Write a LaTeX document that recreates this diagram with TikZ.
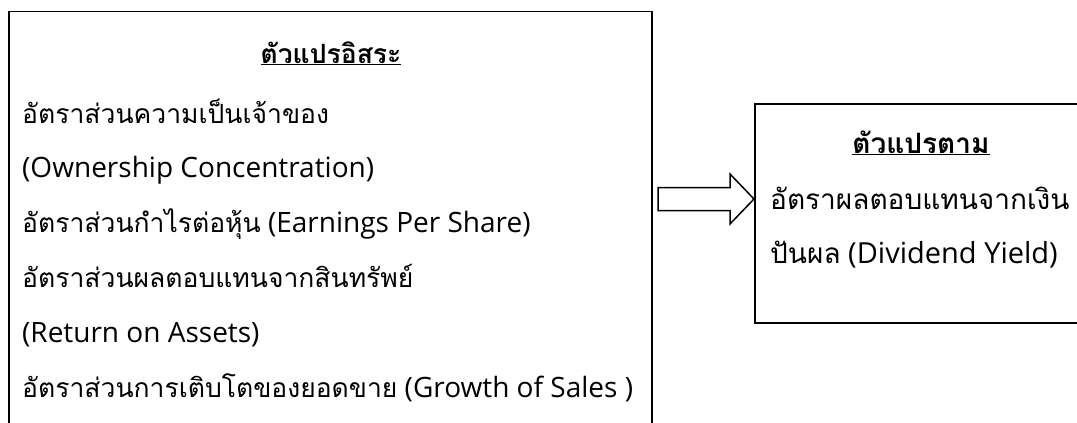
\documentclass[tikz,border=0pt]{standalone}
\usepackage{fontspec}
\setmainfont{Open Sans}
\newfontfamily\thaifont[Script=Thai]{Loma}
\newcommand{\tht}[1]{{\thaifont\fontsize{26.5}{30}\selectfont #1}}
\newcommand{\thw}[1]{{\thaifont\fontsize{28}{32}\selectfont #1}}
\usetikzlibrary{calc}
\tikzset{
  box/.style={draw=black, line width=1.8pt, fill=none, inner sep=0pt},
  txt/.style={anchor=base west, inner sep=0pt, font=\fontsize{28}{32}\selectfont},
  rtxt/.style={anchor=base west, inner sep=0pt, font=\fontsize{29}{32}\selectfont},
  ttl/.style={anchor=base, inner sep=0pt},
  blockarrow/.style={draw=black, line width=1.5pt, fill=white, line join=miter}
}
\begin{document}
\begin{tikzpicture}[x=1pt, y=-1pt]
\useasboundingbox (0,0) rectangle (1077,423);
\clip (0,0) rectangle (1077,423);
% boxes
\node[box, anchor=north west, minimum width=643pt, minimum height=460pt] (L) at (8,10.5) {};
\node[box, anchor=north west, minimum width=340pt, minimum height=219pt] (R) at (754,103) {};
% left texts
\node[ttl, font=\thaifont\bfseries\fontsize{26.5}{30}\selectfont] (lt) at (331,63) {\underline{ตัวแปรอิสระ}};
\node[txt] (l1) at (22,123) {\tht{อัตราส่วนความเป็นเจ้าของ}};
\node[txt] (l2) at (22,177) {(Ownership Concentration)};
\node[txt] (l3) at (22,232) {\tht{อัตราส่วนกำไรต่อหุ้น} (Earnings Per Share)};
\node[txt] (l4) at (22,287) {\tht{อัตราส่วนผลตอบแทนจากสินทรัพย์}};
\node[txt] (l5) at (22,342) {(Return on Assets)};
\node[txt] (l6) at (22,397) {\tht{อัตราส่วนการเติบโตของยอดขาย} (Growth of Sales )};
% right texts
\node[ttl, font=\thaifont\bfseries\fontsize{28}{32}\selectfont] (rt) at (921,153) {\underline{ตัวแปรตาม}};
\node[rtxt] (r1) at (770,209) {\thw{อัตราผลตอบแทนจากเงิน}};
\node[rtxt] (r2) at (770,263) {\thw{ปันผล} (Dividend Yield)};
% arrow
\coordinate (tip) at ($(R.west |- 0,199)$);
\draw[blockarrow] ($(tip)+(-96,-11.5)$) -- ($(tip)+(-24,-11.5)$) -- ($(tip)+(-24,-25)$) -- (tip)
  -- ($(tip)+(-24,25)$) -- ($(tip)+(-24,11.5)$) -- ($(tip)+(-96,11.5)$) -- cycle;
\end{tikzpicture}
\end{document}
